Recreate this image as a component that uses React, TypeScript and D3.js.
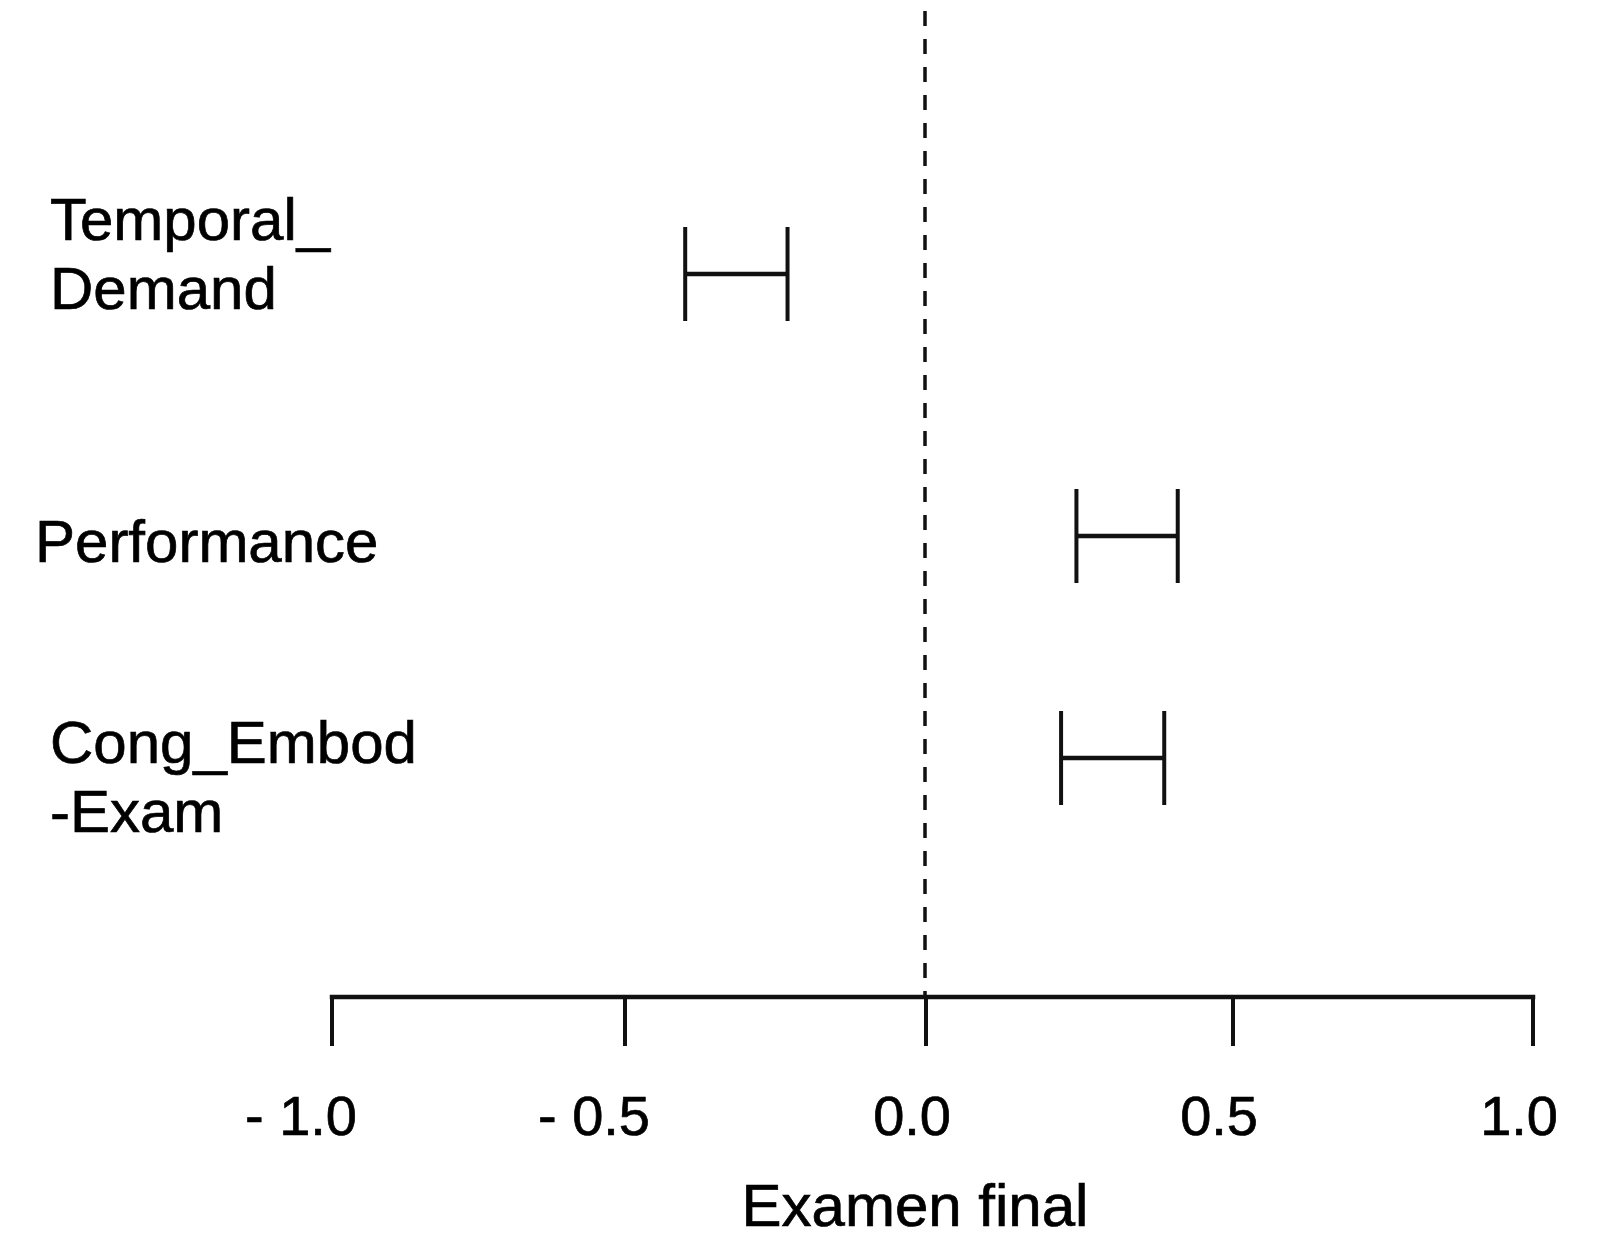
import React from "react";
import * as d3 from "d3";

// ---- data ----
const categories = ["Temporal_Demand", "Performance", "Cong_Embod-Exam"];
const labelLines = [["Temporal_", "Demand"], ["Performance"], ["Cong_Embod", "-Exam"]];
const lowerCI = [-0.40, 0.245, 0.22];
const upperCI = [-0.23, 0.41, 0.388];
const tickValues = [-1, -0.5, 0, 0.5, 1];
const tickLabels = ["- 1.0", "- 0.5", "0.0", "0.5", "1.0"];
const axisTitle = "Examen final";
const refValue = 0;

// ---- layout ----
const W = 1601;
const H = 1235;
const axisY = 997;
const tickLen = 49;
const capHalf = 47;
const rowCenters = [274, 536, 758];
const labelX = [50, 35, 50];
const labelBaseline = [240, 562, 763];
const lineHeight = 69;
const FONT = "'Liberation Sans', Arial, sans-serif";
const INK = "#111";

export default function App() {
  const x = d3
    .scaleLinear()
    .domain(tickValues)
    .range([332, 625, 926, 1233, 1533]);
  const y = d3.scaleOrdinal<string, number>().domain(categories).range(rowCenters);

  const x0 = x(refValue) - 1;
  const textStroke = { stroke: "#000", strokeWidth: 0.7 };

  return (
    <svg
      width={W}
      height={H}
      viewBox={`0 0 ${W} ${H}`}
      style={{ position: "absolute", left: 0, top: 0, background: "#fff" }}
    >
      <rect x={0} y={0} width={W} height={H} fill="#fff" />
      {/* reference dashed line */}
      <line
        x1={x0}
        x2={x0}
        y1={11}
        y2={axisY}
        stroke={INK}
        strokeWidth={3.5}
        strokeDasharray="15 13"
      />
      {/* error bars */}
      {categories.map((c, i) => {
        const cy = y(c);
        const xl = x(lowerCI[i]);
        const xr = x(upperCI[i]);
        return (
          <g key={c} stroke={INK}>
            <line x1={xl} x2={xr} y1={cy} y2={cy} strokeWidth={4.5} />
            <line x1={xl} x2={xl} y1={cy - capHalf} y2={cy + capHalf} strokeWidth={4} />
            <line x1={xr} x2={xr} y1={cy - capHalf} y2={cy + capHalf} strokeWidth={4} />
          </g>
        );
      })}
      {/* category labels */}
      {categories.map((c, i) => (
        <text
          key={c}
          x={labelX[i]}
          y={labelBaseline[i]}
          fontFamily={FONT}
          fontSize={60}
          fill="#000"
          {...textStroke}
        >
          {labelLines[i].map((ln, j) => (
            <tspan key={j} x={labelX[i]} y={labelBaseline[i] + j * lineHeight}>
              {ln}
            </tspan>
          ))}
        </text>
      ))}
      {/* x axis */}
      <line
        x1={x(tickValues[0])}
        x2={x(tickValues[tickValues.length - 1])}
        y1={axisY}
        y2={axisY}
        stroke={INK}
        strokeWidth={4.5}
        strokeLinecap="square"
      />
      {tickValues.map((t, i) => (
        <g key={t}>
          <line
            x1={x(t)}
            x2={x(t)}
            y1={axisY}
            y2={axisY + tickLen}
            stroke={INK}
            strokeWidth={4}
          />
          <text
            x={x(t) + 25}
            y={1135}
            textAnchor="end"
            fontFamily={FONT}
            fontSize={56}
            fill="#000"
            {...textStroke}
          >
            {tickLabels[i]}
          </text>
        </g>
      ))}
      <text
        x={915}
        y={1226}
        textAnchor="middle"
        fontFamily={FONT}
        fontSize={60}
        fill="#000"
        {...textStroke}
      >
        {axisTitle}
      </text>
    </svg>
  );
}
